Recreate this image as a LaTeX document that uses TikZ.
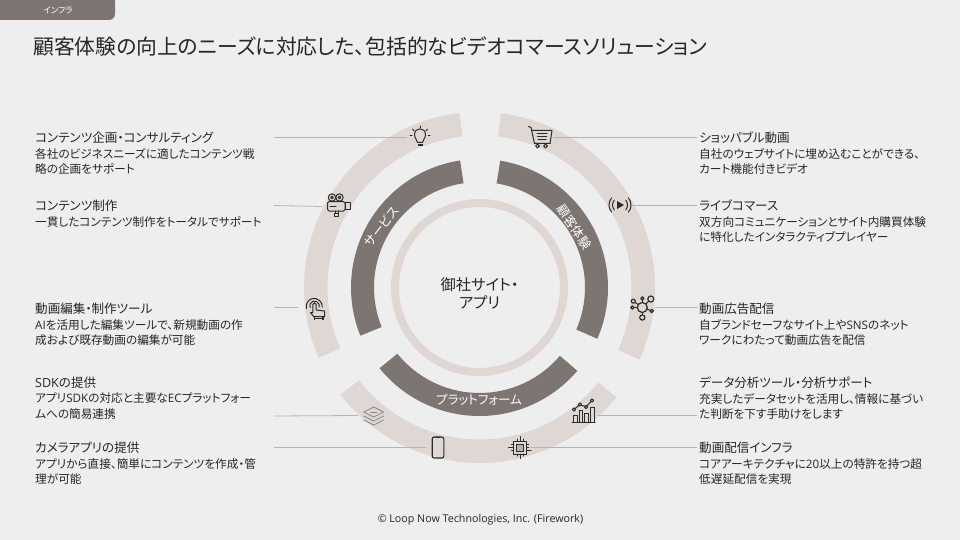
\documentclass[tikz,border=0pt]{standalone}
\usepackage{fontspec}
\setmainfont{Open Sans}
\newfontfamily\jpfont[RawFeature={+palt}]{Noto Sans CJK JP}
\definecolor{bgpage}{HTML}{EEEEEE}
\definecolor{ringlight}{HTML}{DFD7D4}
\definecolor{ringdark}{HTML}{7C7572}
\definecolor{inktext}{HTML}{262626}
\definecolor{linkgray}{HTML}{B4B4B4}
\definecolor{iconink}{HTML}{2B2B2B}

% ring piece: inner radius, outer radius, start angle, end angle, colour
\newcommand{\ringseg}[5]{%
  \fill[#5] (#3:#2pt) arc[start angle=#3, end angle=#4, radius=#2pt]
    -- (#4:#1pt) arc[start angle=#4, end angle=#3, radius=#1pt] -- cycle;
}
\newcommand{\lat}[1]{{\rmfamily #1}}

\begin{document}
\begin{tikzpicture}[
  x=1pt, y=-1pt,
  head/.style={anchor=base west, inner sep=0pt, text=inktext,
    font=\fontsize{12.55}{14}\selectfont\jpfont},
  body/.style={anchor=north west, inner sep=0pt, align=left, text=inktext,
    font=\fontsize{11.65}{15.2}\selectfont\jpfont},
  link/.style={draw=linkgray, line width=0.8pt},
  icon/.style={draw=iconink, line width=1pt, line cap=round, line join=round},
  ringlabel/.style={text=white, inner sep=0pt, font=\fontsize{12.5}{14}\selectfont\jpfont},
]

\fill[bgpage] (0,0) rectangle (960,540);
\useasboundingbox (0,0) rectangle (960,540);

% --- tab and title ---
\fill[ringdark] (0,0) -- (115,0) -- (115,14) arc[start angle=0, end angle=-90, radius=6pt] -- (0,20) -- cycle;
\node[text=white, font=\fontsize{8.5}{10}\selectfont\jpfont] (tab) at (58,10) {インフラ};
\node[anchor=base west, inner sep=0pt, text=inktext, font=\fontsize{20.8}{24}\selectfont\jpfont] (title) at (33,54.5)
  {顧客体験の向上のニーズに対応した、包括的なビデオコマースソリューション};

% --- rings ---
\begin{scope}[shift={(479.5,287.5)}]
  \ringseg{152}{175.5}{96.5}{203.6}{ringlight}
  \ringseg{152}{175.5}{83}{-24.3}{ringlight}
  \ringseg{152}{175.5}{217.6}{321.3}{ringlight}
  \ringseg{105.5}{128.5}{98.7}{202}{ringdark}
  \ringseg{105.5}{128.5}{80.7}{-23.5}{ringdark}
  \ringseg{105.5}{128.5}{218.9}{319.6}{ringdark}
  \fill[ringlight, even odd rule] (0,0) circle[radius=88.5pt] (0,0) circle[radius=80.5pt];
\end{scope}

\node[ringlabel, rotate=52] (service) at (381.5,226.5) {サービス};
\node[ringlabel, rotate=-56] (experience) at (574,227) {顧客体験};
\node[ringlabel] (platform) at (479,400) {プラットフォーム};
\node[align=center, text=inktext, inner sep=0pt, font=\fontsize{15.3}{18.5}\selectfont\jpfont] (own) at (479.5,293.5) {御社サイト・\\アプリ};

% --- left column ---
\node[head] (plan) at (35,142.5) {コンテンツ企画・コンサルティング};
\node[body] (plantxt) at (35,148.3) {各社のビジネスニーズに適したコンテンツ戦\\略の企画をサポート};
\node[head] (make) at (35,210.5) {コンテンツ制作};
\node[body] (maketxt) at (35,216) {一貫したコンテンツ制作をトータルでサポート};
\node[head] (edit) at (35,313.5) {動画編集・制作ツール};
\node[body] (edittxt) at (35,319) {\lat{AI}を活用した編集ツールで、新規動画の作\\成および既存動画の編集が可能};
\node[head] (sdk) at (35,387.5) {\lat{SDK}の提供};
\node[body] (sdktxt) at (35,393) {アプリ\lat{SDK}の対応と主要な\lat{EC}プラットフォー\\ムへの簡易連携};
\node[head] (cam) at (35,452.5) {カメラアプリの提供};
\node[body] (camtxt) at (35,458.3) {アプリから直接、簡単にコンテンツを作成・管\\理が可能};

% --- right column ---
\node[head] (shop) at (699,142.5) {ショッパブル動画};
\node[body] (shoptxt) at (699,148.3) {自社のウェブサイトに埋め込むことができる、\\カート機能付きビデオ};
\node[head] (live) at (699,210.5) {ライブコマース};
\node[body] (livetxt) at (699,216) {双方向コミュニケーションとサイト内購買体験\\に特化したインタラクティブプレイヤー};
\node[head] (ads) at (699,313.5) {動画広告配信};
\node[body] (adstxt) at (699,319) {自ブランドセーフなサイト上や\lat{SNS}のネット\\ワークにわたって動画広告を配信};
\node[head] (data) at (699,387.5) {データ分析ツール・分析サポート};
\node[body] (datatxt) at (699,393) {充実したデータセットを活用し、情報に基づい\\た判断を下す手助けをします};
\node[head] (cdn) at (699,452.5) {動画配信インフラ};
\node[body] (cdntxt) at (699,458.3) {コアアーキテクチャに\lat{20}以上の特許を持つ超\\低遅延配信を実現};

\node[text=inktext, inner sep=0pt, font=\fontsize{10.7}{12}\selectfont] (credit) at (480.5,520) {© Loop Now Technologies, Inc. (Firework)};

% --- leader lines ---
\coordinate (planA) at (274,137.5);  \coordinate (planB) at (407,137.5);
\coordinate (makeA) at (274,205.5);  \coordinate (makeB) at (322,206.5);
\coordinate (editA) at (274,307.5);  \coordinate (editB) at (298,307.5);
\coordinate (sdkA) at (274,416);     \coordinate (sdkB) at (358,415.5);
\coordinate (camA) at (274,447.5);   \coordinate (camB) at (426,447.5);
\coordinate (shopA) at (553,137.5);  \coordinate (shopB) at (697,137.5);
\coordinate (liveA) at (632,205.5);  \coordinate (liveB) at (697,205.5);
\coordinate (adsA) at (655,307.5);   \coordinate (adsB) at (697,307.5);
\coordinate (dataA) at (598,415.5);  \coordinate (dataB) at (697,415.5);
\coordinate (cdnA) at (530,447.5);   \coordinate (cdnB) at (697,447.5);
\foreach \n in {plan, make, edit, sdk, cam, shop, live, ads, data, cdn} {
  \draw[link] (\n A) -- (\n B);
}

% --- icons ---
% bulb
\begin{scope}[shift={(420,136)}]
  \draw[icon] (-2.5,6.5) .. controls (-3,3) and (-5.5,2.5) .. (-5.5,-1.5)
    .. controls (-5.5,-9) and (5.5,-9) .. (5.5,-1.5)
    .. controls (5.5,2.5) and (3,3) .. (2.5,6.5) -- cycle;
  \fill[iconink] (-2.5,8) rectangle (2.5,10.5);
  \foreach \a in {0,42,90,138,180} {
    \draw[icon] (\a:8pt) -- (\a:10pt);
  }
\end{scope}
% film camera
\begin{scope}[shift={(337,205)}]
  \draw[icon] (-5,-7.5) circle[radius=3.7pt] (-5,-7.5) circle[radius=1.3pt];
  \draw[icon] (2.5,-7.5) circle[radius=3.7pt] (2.5,-7.5) circle[radius=1.3pt];
  \draw[icon, rounded corners=1.5pt] (-9.5,-3.5) rectangle (8,6);
  \draw[icon] (8,-3) rectangle (13,4.5);
  \draw[icon] (-7,1) -- (-1,1);
  \draw[icon] (-1.5,6) -- (-1.5,8.5) (1,6) -- (1,8.5);
  \draw[icon] (-2.5,8.5) rectangle (1.5,11);
\end{scope}
% touch
\begin{scope}[shift={(314.5,304.5)}]
  \draw[icon] (-4.5,3) arc[start angle=200, end angle=-15, radius=4.8pt];
  \draw[icon] (-8,4) arc[start angle=195, end angle=-5, radius=8pt];
  \draw[icon] (-1.7,8) -- (-1.7,0) arc[start angle=180, end angle=0, radius=1.7pt] -- (1.7,5.5)
    -- (10,6.5) -- (10,12) -- (-1,12) -- (-4,8) -- cycle;
  \draw[icon, line width=1.3pt] (0,12) -- (0,15) (8.5,12) -- (8.5,15) (0,14) -- (8.5,14);
\end{scope}
% stacked layers
\begin{scope}[shift={(373.7,416)}, icon/.append style={draw=iconink!55, line width=.85pt}]
  \draw[icon] (-10,-4) -- (0,-9) -- (10,-4) -- (0,1) -- cycle;
  \draw[icon] (-10,0) -- (0,5) -- (10,0);
  \draw[icon] (-10,4) -- (0,9) -- (10,4);
  \draw[icon] (-3,-4) -- (3,-4);
\end{scope}
% phone
\begin{scope}[shift={(438,447.5)}]
  \draw[icon, line width=1.1pt, rounded corners=2pt] (-5.8,-10.5) rectangle (5.8,10.5);
  \draw[icon] (-2,-10) -- (2,-10);
\end{scope}
% cart
\begin{scope}[shift={(540,137)}]
  \draw[icon] (-11.5,-10.5) -- (-9,-9.5) -- (-5.5,6.5) -- (10,6.5);
  \draw[icon] (-8.5,-6.5) -- (12,-6.5) -- (10,6.5);
  \draw[icon] (-3,-3.5) -- (7,-3.5) (-2.5,-0.5) -- (6.5,-0.5) (-2,2.5) -- (6,2.5);
  \draw[icon] (-2.5,9) circle[radius=1.9pt] (5.5,9) circle[radius=1.9pt];
\end{scope}
% live signal
\begin{scope}[shift={(620,205)}]
  \fill[iconink] (-3,-4) -- (4,0) -- (-3,4) -- cycle;
  \foreach \r in {7.5,11} {
    \draw[icon] (140:\r pt) arc[start angle=140, end angle=220, radius=\r pt];
    \draw[icon] (-40:\r pt) arc[start angle=-40, end angle=40, radius=\r pt];
  }
\end{scope}
% network
\begin{scope}[shift={(642.3,307.5)}]
  \draw[icon, line width=1.2pt] (0,0) circle[radius=5pt];
  \foreach \a/\r/\s in {45/12/3, -20/10/1.7, -90/10/2.6, 180/10/1.7, 145/11/2, 90/9/1.6} {
    \draw[icon] (\a:5pt) -- (\a:{(\r-\s)*1pt});
    \draw[icon, line width=1.2pt] (\a:\r pt) circle[radius=\s pt];
  }
\end{scope}
% chart
\begin{scope}[shift={(584,411)}]
  \draw[icon] (-12,11.5) -- (11,11.5);
  \draw[icon] (-10.5,11.5) -- (-10.5,4.5) -- (-7,4.5) -- (-7,11.5);
  \draw[icon] (-5,11.5) -- (-5,-0.5) -- (-1.5,-0.5) -- (-1.5,11.5);
  \draw[icon] (0.5,11.5) -- (0.5,2.5) -- (4,2.5) -- (4,11.5);
  \draw[icon] (6.5,11.5) -- (6.5,-4) -- (10,-4) -- (10,11.5);
  \draw[icon] (-10,-1.5) -- (-4,-6.5) -- (2,-4) -- (8,-10.5);
  \foreach \p in {(-10,-1.5),(-4,-6.5),(2,-4),(8,-10.5)} {
    \filldraw[icon, fill=bgpage] \p circle[radius=1.6pt];
  }
\end{scope}
% chip
\begin{scope}[shift={(520,447.5)}]
  \draw[icon] (-6.5,-6.5) rectangle (6.5,6.5);
  \draw[icon, fill=iconink!35] (-3.5,-3.5) rectangle (3.5,3.5);
  \foreach \p in {-3,0,3} {
    \draw[icon] (\p,-6.5) -- (\p,-8.5) (\p,6.5) -- (\p,8.5);
    \draw[icon] (-6.5,\p) -- (-8.5,\p) (6.5,\p) -- (8.5,\p);
  }
  \draw[icon] (0,-8.5) -- (0,-11) (0,8.5) -- (0,11);
  \draw[icon] (-8.5,0) -- (-11.5,0) (8.5,3) -- (11,3);
\end{scope}

\end{tikzpicture}
\end{document}
